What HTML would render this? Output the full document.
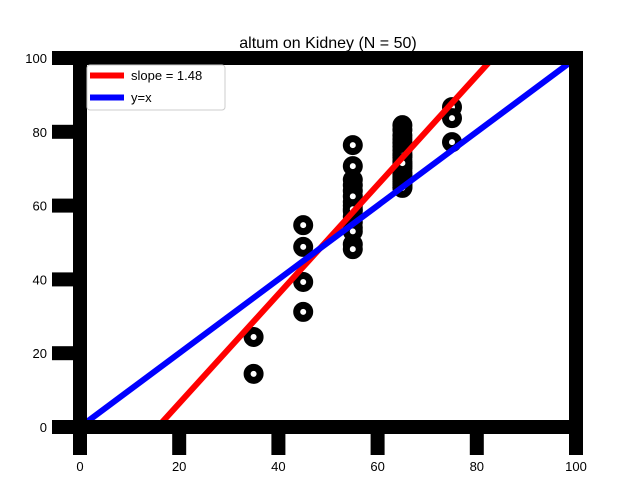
<!DOCTYPE html>
<html><head><meta charset="utf-8"><style>
html,body{margin:0;background:#fff;overflow:hidden;width:640px;height:480px;}
svg{display:block;font-family:"Liberation Sans","DejaVu Sans",sans-serif;}
</style></head><body>
<svg id="chart" width="640" height="480">
<text x="328" y="48" text-anchor="middle" font-size="16">altum on Kidney (N = 50)</text>
<defs><clipPath id="plotclip"><rect x="80" y="58" width="496" height="369"/></clipPath></defs>
<g id="points"></g>
<g id="lines" clip-path="url(#plotclip)"></g>
<g id="axes"></g>
<g id="legend">
<rect x="87" y="65" width="138" height="45" rx="3" fill="#fff" fill-opacity="0.8" stroke="#ccc"/>
<line x1="90" y1="75.5" x2="124" y2="75.5" stroke="#ff0000" stroke-width="6"/>
<text x="131" y="80" font-size="13">slope = 1.48</text>
<line x1="90" y1="97.5" x2="124" y2="97.5" stroke="#0000ff" stroke-width="6"/>
<text x="131" y="102" font-size="13">y=x</text>
</g>
</svg>
<script>
const xValues=[35,35,45,45,45,45,
55,55,55,55,55,55,55,55,55,55,55,55,55,55,55,55,
65,65,65,65,65,65,65,65,65,65,65,65,65,65,65,65,65,65,65,65,65,65,65,65,65,
75,75,75];
const yValues=[24.4,14.4,54.7,48.8,39.3,31.2,
76.4,70.7,67,65.5,64,61,60,58.5,57,55.5,54,53,49.5,48.2,62.5,59,
81.8,80.5,79,78,77,76,75,74,73,72,71,70.5,70,69,68.5,68,67.5,67,66.5,66,65.5,65,64.8,73.5,71.5,
86.7,83.7,77.2];
const slope=1.48;
const intercept=-23.2;
const xTicks=[0,20,40,60,80,100];
const yTicks=[0,20,40,60,80,100];
const NS="http://www.w3.org/2000/svg";
function sx(v){return 80+v*4.96;}
function sy(v){return 427-v*3.69;}
function mk(tag,attrs,parent){const e=document.createElementNS(NS,tag);for(const k in attrs)e.setAttribute(k,attrs[k]);parent.appendChild(e);return e;}
const lines=document.getElementById('lines');
let l1=mk('line',{x1:sx(0),y1:sy(intercept),x2:sx(100),y2:sy(intercept+slope*100),stroke:'#ff0000','stroke-width':6},lines);


let l2=mk('line',{x1:sx(0),y1:sy(0),x2:sx(100),y2:sy(100),stroke:'#0000ff','stroke-width':6},lines);


const pts=document.getElementById('points');
for(let i=0;i<xValues.length;i++){
 const c=mk('circle',{cx:sx(xValues[i]),cy:sy(yValues[i]),r:6.5,fill:'#fff',stroke:'#000','stroke-width':7},pts);
 
 
}
const ax=document.getElementById('axes');
function bar(x,y,w,h,name){const r=mk('rect',{x:x,y:y,width:w,height:h,fill:'#000'},ax);}
bar(73,51,14,383,'left-spine');
bar(569,51,14,383,'right-spine');
bar(73,51,510,14,'top-spine');
bar(73,420,510,14,'bottom-spine');
xTicks.forEach(v=>{
 bar(sx(v)-7,434,14,21,'x-tick');
 const t=mk('text',{x:sx(v),y:471,'text-anchor':'middle','font-size':13},ax);t.textContent=v;
 
 
});
yTicks.forEach(v=>{
 bar(52,sy(v)-7,21,14,'y-tick');
 const t=mk('text',{x:47,y:sy(v)+5,'text-anchor':'end','font-size':13},ax);t.textContent=v;
 
 
});
</script>
</body></html>
